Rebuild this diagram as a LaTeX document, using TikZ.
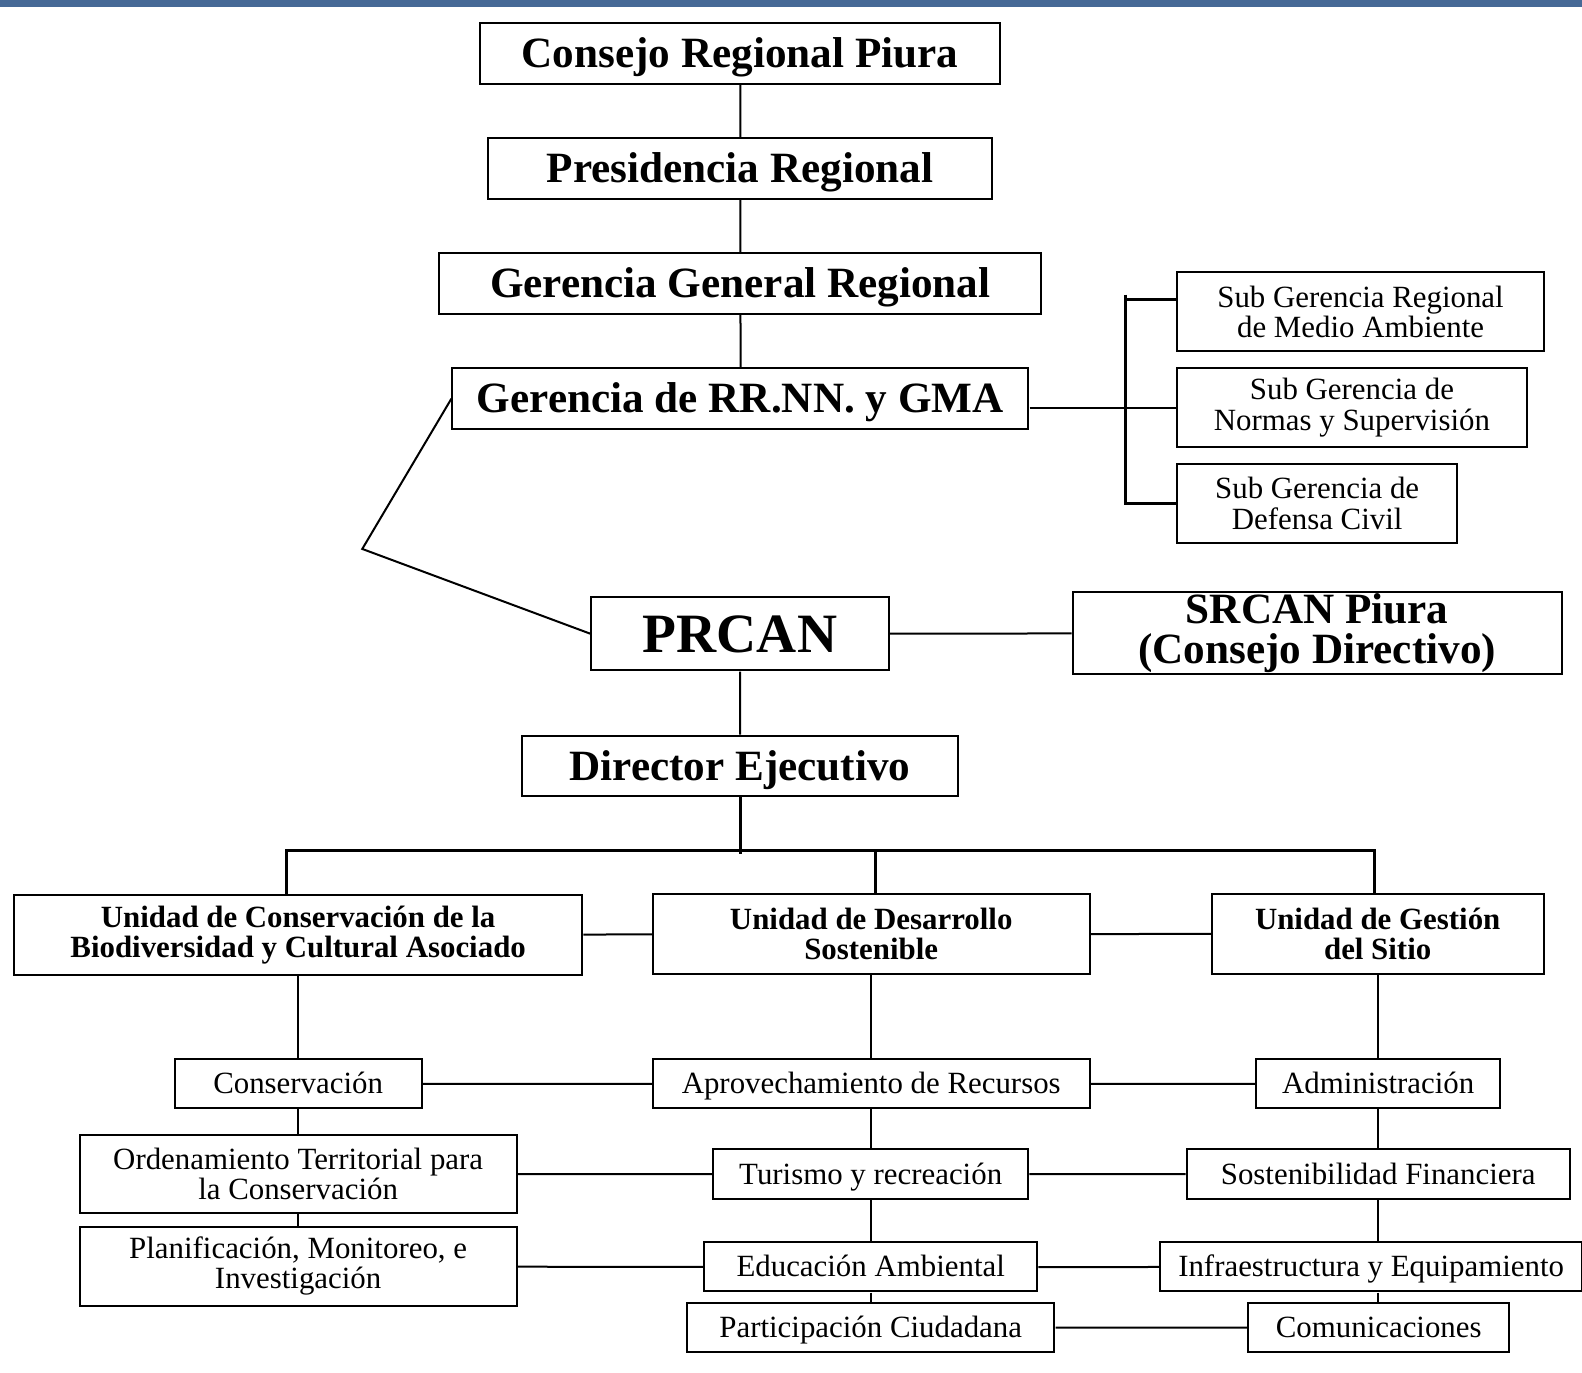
\documentclass[tikz,border=0pt]{standalone}
\usepackage{fontspec}
\setmainfont{Liberation Serif}
\definecolor{barblue}{RGB}{70,105,150}

\begin{document}
\begin{tikzpicture}
  [x=1pt, y=1pt, scale=1.0089, transform shape, line width=2pt, node distance=114pt,
   box/.style={draw, line width=2pt, inner sep=0pt, align=center},
   head/.style={box, font=\fontsize{42.8}{40}\selectfont\bfseries, minimum height=60pt,
                text height=28.5pt, text depth=0pt},
   unit/.style={box, font=\fontsize{30.6}{30}\selectfont\bfseries, minimum height=79pt},
   task/.style={box, font=\fontsize{30.6}{30}\selectfont, minimum height=49pt,
                text height=20.3pt, text depth=0pt},
   tasktwo/.style={box, font=\fontsize{30.6}{30}\selectfont, minimum height=78pt},
   bar/.style={line width=3pt}]

	\useasboundingbox (0,0) rectangle (1568,-1360);
	\fill [barblue] (0,0) rectangle (1568,-7);

	% regional government
	\node [head, minimum width=515pt, name=consejo] at (733.5,-53) {Consejo Regional Piura};
	\node [head, minimum width=499pt, name=presid, below of=consejo] {Presidencia Regional};
	\node [head, minimum width=597pt, name=gergen, below of=presid] {Gerencia General Regional};
	\node [head, minimum width=571pt, name=rrnn, below of=gergen] {Gerencia de RR.NN. y GMA};

	\node [tasktwo, minimum width=363pt, name=sgma] at (1348.5,-309) {Sub Gerencia Regional\\de Medio Ambiente};
	\node [tasktwo, minimum width=346pt, name=sgns] at (1340,-404) {Sub Gerencia de\\Normas y Supervisión};
	\node [tasktwo, minimum width=277pt, name=sgdc] at (1305.5,-499) {Sub Gerencia de\\Defensa Civil};

	\node [head, font=\fontsize{55}{55}\selectfont\bfseries, text height=36.5pt,
	       minimum width=295pt, minimum height=73pt, name=prcan] at (733.5,-628) {PRCAN};
	\node [box, font=\fontsize{42.8}{40}\selectfont\bfseries, minimum width=485pt, minimum height=81pt,
	       name=srcan] at (1305.5,-627.5) {SRCAN Piura\\(Consejo Directivo)};
	\node [head, minimum width=433pt, name=director] at (733.5,-759) {Director Ejecutivo};

	% units
	\node [unit, minimum width=563pt, name=ucb] at (295.5,-926.5) {Unidad de Conservación de la\\Biodiversidad y Cultural Asociado};
	\node [unit, minimum width=433pt, name=uds] at (863.5,-925.5) {Unidad de Desarrollo\\Sostenible};
	\node [unit, minimum width=329pt, name=ugs] at (1365.5,-925.5) {Unidad de Gestión\\del Sitio};

	\node [task, minimum width=245pt, name=cons] at (295.5,-1074) {Conservación};
	\node [tasktwo, minimum width=433pt, name=orden] at (295.5,-1163.5) {Ordenamiento Territorial para\\la Conservación};
	\node [tasktwo, minimum width=433pt, name=plan] at (295.5,-1255) {Planificación, Monitoreo, e\\Investigación};

	\node [task, minimum width=433pt, name=aprov] at (863.5,-1074) {Aprovechamiento de Recursos};
	\node [task, minimum width=312pt, name=turismo] at (863,-1163.5) {Turismo y recreación};
	\node [task, minimum width=330pt, name=educ] at (863,-1255.5) {Educación Ambiental};
	\node [task, minimum width=364pt, name=partic] at (863,-1315.5) {Participación Ciudadana};

	\node [task, minimum width=242pt, name=admin] at (1366,-1074) {Administración};
	\node [task, minimum width=380pt, name=sosten] at (1366,-1163.5) {Sostenibilidad Financiera};
	\node [task, minimum width=418pt, name=infra] at (1359,-1255.5) {Infraestructura y Equipamiento};
	\node [task, minimum width=259pt, name=comun] at (1366.5,-1315.5) {Comunicaciones};

	\coordinate (elbow) at (359,-544);
	\coordinate (brtop) at (1115,-292);
	\coordinate (fork) at (733.5,-843);

	\path (consejo) edge (presid)
	      (presid) edge (gergen)
	      (gergen) edge (rrnn)
	      (prcan) edge (director)
	      (prcan) edge (srcan);
	\draw (rrnn.east |- sgns.west) -- (sgns.west);
	\draw (rrnn.west) -- (elbow) -- (prcan.west);
	\draw [bar] ([yshift=12.5pt]sgma.west) -| (brtop);
	\draw [bar] (brtop) |- (sgdc.west);

	\draw [bar] (director.south) -- ([yshift=-3pt]fork);
	\draw [bar] ([xshift=-12pt]ucb.north) |- (fork) -| ([xshift=-3pt]ugs.north);
	\draw [bar] ([xshift=4pt]uds.north) -- ([xshift=4pt]uds.north |- fork);

	\foreach \a/\b in {ucb/uds, uds/ugs, cons/aprov, aprov/admin, orden/turismo,
	                   turismo/sosten, plan/educ, educ/infra, partic/comun}
	  \draw (\a) -- (\b);
	\foreach \a/\b in {ucb/cons, cons/orden, orden/plan}
	  \draw (\a.south -| ucb) -- (\b.north -| ucb);
	\foreach \a/\b in {uds/aprov, aprov/turismo, turismo/educ, educ/partic}
	  \draw (\a.south -| uds) -- (\b.north -| uds);
	\foreach \a/\b in {ugs/admin, admin/sosten, sosten/infra, infra/comun}
	  \draw (\a.south -| ugs) -- (\b.north -| ugs);
\end{tikzpicture}
\end{document}
